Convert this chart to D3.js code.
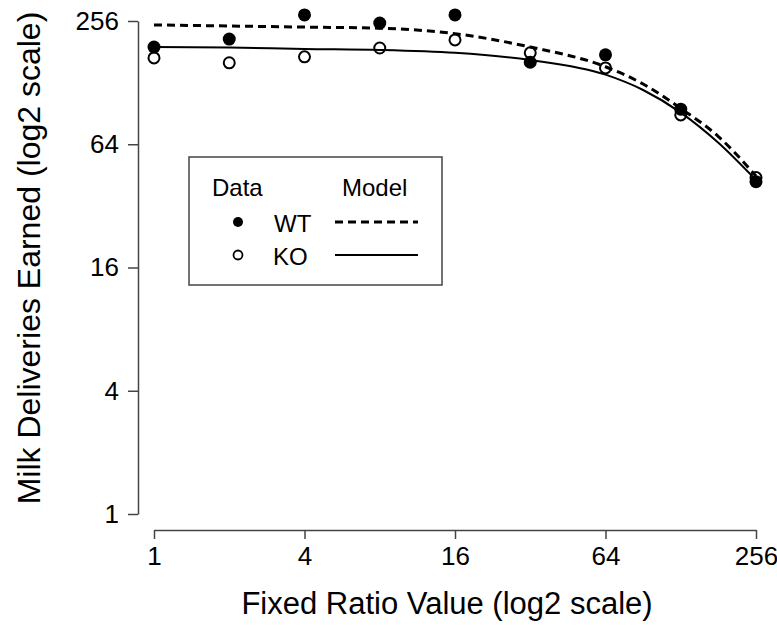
<!DOCTYPE html>
<html>
<head>
<meta charset="utf-8">
<script src="https://cdn.jsdelivr.net/npm/d3@7"></script>
<style>
body { margin: 0; background: #fff; }
text { font-family: "Liberation Sans", Arial, Helvetica, sans-serif; fill: #000; }
</style>
</head>
<body>
<div id="chart"></div>
<script>
var w = 777,
	h = 629;

// observed data
var ratios = [1, 2, 4, 8, 16, 32, 64, 128, 256];
var wtData = [191, 209, 274, 250, 274, 161, 175, 95, 42];
var koData = [169, 160, 171, 189, 207, 179, 151, 89, 44];

// model curves
var modelRatios = [1, 2, 4, 8, 16, 32, 64, 90.5, 128, 181, 256];
var wtModel = [245, 242, 239, 236, 222, 191, 153, 126, 95.8, 69.8, 44.8];
var koModel = [191, 190, 187, 185, 179, 165, 140, 117.8, 91.4, 65.1, 42.8];

var tickVals = [1, 4, 16, 64, 256];

var root = d3.select("#chart").append("svg").attr("width", w).attr("height", h);

var x = d3.scaleLog().base(2).domain([1, 256]).range([154, 756]);
var y = d3.scaleLog().base(2).domain([1, 256]).range([514, 21]);

// axes
var yAxis = root.append("g").attr("transform", "translate(138,0)")
	.call(d3.axisLeft(y).tickValues(tickVals).tickFormat(d3.format("d")).tickSize(10).tickSizeOuter(0).tickPadding(9));
var xAxis = root.append("g").attr("transform", "translate(0,530)")
	.call(d3.axisBottom(x).tickValues(tickVals).tickFormat(d3.format("d")).tickSize(9).tickSizeOuter(0).tickPadding(8));

[xAxis, yAxis].forEach(function(a) {
	a.select(".domain").style("stroke", "#444").style("stroke-width", 1.5);
	a.selectAll(".tick line").style("stroke", "#444").style("stroke-width", 1.5);
	a.selectAll(".tick text").style("font-size", "26px").style("font-family", "Liberation Sans, Arial, sans-serif").attr("fill", "#000");
});

// axis titles
root.append("text").attr("x", 447).attr("y", 614).attr("text-anchor", "middle")
	.style("font-size", "31px").text("Fixed Ratio Value (log2 scale)");
root.append("text").attr("transform", "translate(40,258) rotate(-90)").attr("text-anchor", "middle")
	.style("font-size", "32px").text("Milk Deliveries Earned (log2 scale)");

// model lines
var line = d3.line()
	.x(function(d) { return x(d[0]); })
	.y(function(d) { return y(d[1]); })
	.curve(d3.curveMonotoneX);

root.append("path").datum(d3.zip(modelRatios, wtModel)).attr("d", line)
	.style("fill", "none").style("stroke", "#000").style("stroke-width", 3).style("stroke-dasharray", "8,5");
root.append("path").datum(d3.zip(modelRatios, koModel)).attr("d", line)
	.style("fill", "none").style("stroke", "#000").style("stroke-width", 2);

// points
root.selectAll(".wt").data(d3.zip(ratios, wtData)).enter().append("circle")
	.attr("class", "wt")
	.attr("cx", function(d) { return x(d[0]); })
	.attr("cy", function(d) { return y(d[1]); })
	.attr("r", 6.5).style("fill", "#000");
root.selectAll(".ko").data(d3.zip(ratios, koData)).enter().append("circle")
	.attr("class", "ko")
	.attr("cx", function(d) { return x(d[0]); })
	.attr("cy", function(d) { return y(d[1]); })
	.attr("r", 5.5).style("fill", "none").style("stroke", "#000").style("stroke-width", 2);

// legend
var lg = root.append("g");
lg.append("rect").attr("x", 189).attr("y", 157).attr("width", 253).attr("height", 128)
	.style("fill", "#fff").style("stroke", "#444").style("stroke-width", 1.5);
lg.append("text").attr("x", 212).attr("y", 196).style("font-size", "24px").text("Data");
lg.append("text").attr("x", 342).attr("y", 196).style("font-size", "24px").text("Model");
lg.append("circle").attr("cx", 238).attr("cy", 222).attr("r", 5).style("fill", "#000");
lg.append("text").attr("x", 274).attr("y", 232).style("font-size", "24px").text("WT");
lg.append("line").attr("x1", 335).attr("x2", 418).attr("y1", 222).attr("y2", 222)
	.style("stroke", "#000").style("stroke-width", 3).style("stroke-dasharray", "8,5");
lg.append("circle").attr("cx", 238).attr("cy", 255).attr("r", 4.5).style("fill", "none").style("stroke", "#000").style("stroke-width", 1.8);
lg.append("text").attr("x", 273).attr("y", 265).style("font-size", "24px").text("KO");
lg.append("line").attr("x1", 335).attr("x2", 418).attr("y1", 255).attr("y2", 255)
	.style("stroke", "#000").style("stroke-width", 2);
</script>
</body>
</html>
